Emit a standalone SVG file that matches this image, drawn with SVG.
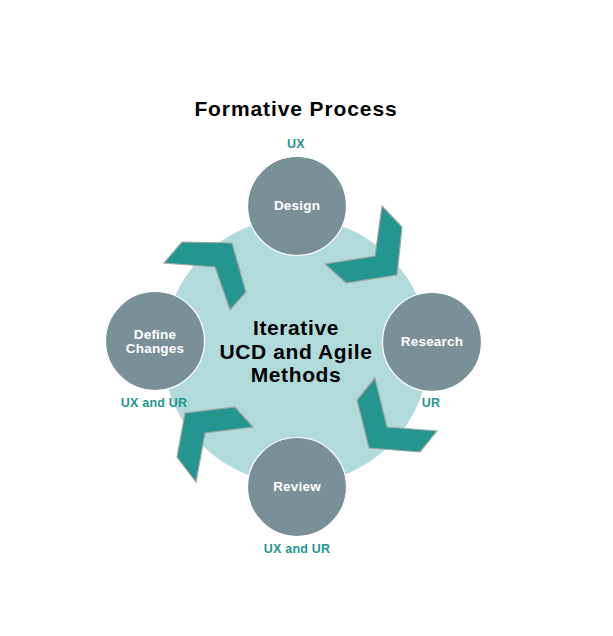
<svg xmlns="http://www.w3.org/2000/svg" width="613" height="636" viewBox="0 0 613 636">
<style>
.t{font-family:"Liberation Sans",Arial,sans-serif;font-weight:bold;text-anchor:middle}
.title{font-size:21px;fill:#000;letter-spacing:0.9px}
.center{font-size:21px;fill:#000;letter-spacing:0.6px}
.node{fill:#7a9098;stroke:#ffffff;stroke-width:1.2}
.nt{font-size:13.5px;fill:#ffffff;letter-spacing:0.2px}
.lab{font-size:12.5px;fill:#23968f;letter-spacing:0.2px}
.chev{fill:#22968f;stroke:#a6a6a6;stroke-width:1.2;stroke-linejoin:miter}
</style>
<rect width="613" height="636" fill="#ffffff"/>
<text class="t title" x="296" y="116">Formative Process</text>
<g id="hub">
<circle cx="296" cy="351" r="133" fill="#b1dbdb"/>
<text class="t center" x="296" y="335">Iterative</text>
<text class="t center" x="296" y="359">UCD and Agile</text>
<text class="t center" x="296" y="382">Methods</text>
</g>
<g id="connectors">
<polygon class="chev" points="182,242 232,243 246,292 230,310 215,267 164,263"/>
<polygon class="chev" points="382,206 402,227 397,275 346,283 325,264 375,256"/>
<polygon class="chev" points="375,378 357,400 369,448 420,452 437,431 387,427"/>
<polygon class="chev" points="185,413 235,407 253,427 205,433 196,482 177,457"/>
</g>
<g id="design">
<circle class="node" cx="297" cy="206" r="49.5"/>
<text class="t nt" x="297" y="210">Design</text>
<text class="t lab" x="296" y="148">UX</text>
</g>
<g id="research">
<circle class="node" cx="432" cy="342" r="49.5"/>
<text class="t nt" x="432" y="346">Research</text>
<text class="t lab" x="431" y="407">UR</text>
</g>
<g id="review">
<circle class="node" cx="297" cy="487" r="49.5"/>
<text class="t nt" x="297" y="491">Review</text>
<text class="t lab" x="297" y="553">UX and UR</text>
</g>
<g id="define">
<circle class="node" cx="155" cy="341" r="49.5"/>
<text class="t nt" x="155" y="339">Define</text>
<text class="t nt" x="155" y="353">Changes</text>
<text class="t lab" x="154" y="407">UX and UR</text>
</g>
</svg>
